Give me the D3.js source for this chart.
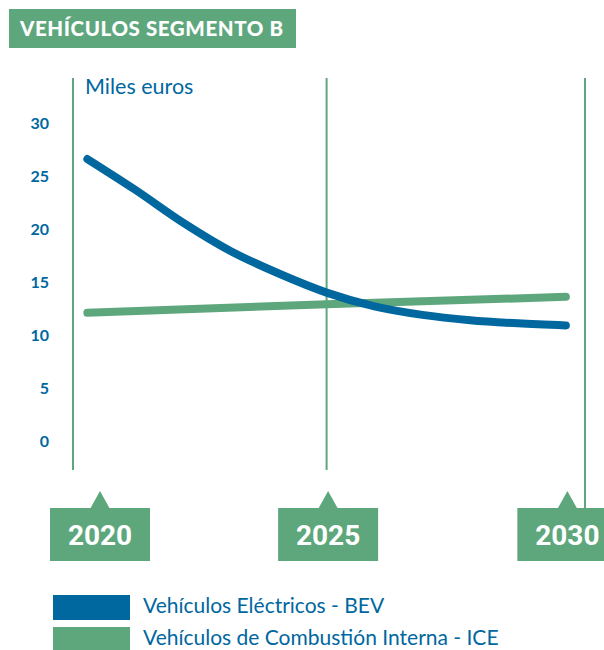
<!DOCTYPE html>
<html>
<head>
<meta charset="utf-8">
<script src="https://cdn.jsdelivr.net/npm/d3@7"></script>
<style>
  body { margin: 0; background: #fff; }
  svg { display: block; font-family: Lato, "Open Sans", sans-serif; }
</style>
</head>
<body>
<svg width="604" height="650"></svg>
<script>
var blue = "#00679f", green = "#5ea77d";

// data (miles de euros)
var years = [2020, 2021, 2022, 2023, 2024, 2025, 2026, 2027, 2028, 2029, 2030];
var bev = [26.6, 23.7, 20.6, 17.9, 15.8, 14.0, 12.7, 11.9, 11.4, 11.1, 10.9];
var iceYears = [2020, 2025, 2030];
var ice = [12.1, 12.9, 13.6];
var yTicks = [0, 5, 10, 15, 20, 25, 30];
var yearLabels = [2020, 2025, 2030];
var legendNames = ["Vehículos Eléctricos - BEV", "Vehículos de Combustión Interna - ICE"];

var svg = d3.select("svg");

var x = d3.scaleLinear().domain([2019.7, 2030.4]).range([73, 585]);
var y = d3.scaleLinear().domain([0, 30]).range([441, 123]);

// title
svg.append("rect").attr("x", 9).attr("y", 9).attr("width", 287).attr("height", 39).attr("fill", green);
svg.append("text").attr("x", 20).attr("y", 36)
    .attr("fill", "#fff").style("font-weight", "900").style("font-size", "20.5px")
    .attr("textLength", 263).attr("lengthAdjust", "spacing")
    .text("VEHÍCULOS SEGMENTO B");

// vertical year lines
svg.selectAll(".vline")
    .data([x.domain()[0], 2025, x.domain()[1]])
    .enter().append("line")
    .attr("class", "vline")
    .attr("x1", function (d) { return x(d); })
    .attr("x2", function (d) { return x(d); })
    .attr("y1", 78)
    .attr("y2", function (d, i) { return i == 2 ? 508 : 470; })
    .attr("stroke", green).attr("stroke-width", 2);

svg.append("text").attr("x", 85).attr("y", 94)
    .attr("fill", blue).style("font-size", "21.5px")
    .text("Miles euros");

// y axis
var yAxis = svg.append("g")
    .attr("transform", "translate(49,0)")
    .call(d3.axisLeft(y).tickValues(yTicks).tickSize(0).tickPadding(0));
yAxis.select(".domain").remove();
yAxis.selectAll("text")
    .attr("fill", blue)
    .style("font-family", "Lato, sans-serif")
    .style("font-weight", "bold")
    .style("font-size", "16px");

// lines
var line = d3.line()
    .curve(d3.curveMonotoneX)
    .x(function (d) { return x(d[0]); })
    .y(function (d) { return y(d[1]); });

svg.append("path")
    .attr("d", line(d3.zip(iceYears, ice)))
    .attr("fill", "none").attr("stroke", green)
    .attr("stroke-width", 8).attr("stroke-linecap", "round");

svg.append("path")
    .attr("d", line(d3.zip(years, bev)))
    .attr("fill", "none").attr("stroke", blue)
    .attr("stroke-width", 8).attr("stroke-linecap", "round").attr("stroke-linejoin", "round");

// year badges
var badge = svg.selectAll(".badge")
    .data(yearLabels)
    .enter().append("g")
    .attr("class", "badge")
    .attr("transform", function (d) { return "translate(" + Math.max(x(d) + 1.5, 100) + ",0)"; });

badge.append("path")
    .attr("d", "M-10,509L0,491L10,509Z")
    .attr("fill", green);
badge.append("rect")
    .attr("x", -50).attr("y", 508).attr("width", 100).attr("height", 53)
    .attr("fill", green);
badge.append("text")
    .attr("y", 545)
    .attr("text-anchor", "middle")
    .attr("fill", "#fff")
    .style("font-family", "Roboto, sans-serif")
    .style("font-weight", "bold")
    .style("font-size", "28px")
    .text(function (d) { return d; });

// legend
var legend = svg.selectAll(".legend")
    .data(legendNames)
    .enter().append("g")
    .attr("class", "legend")
    .attr("transform", function (d, i) { return "translate(0," + (595 + i * 32) + ")"; });

legend.append("rect")
    .attr("x", 53).attr("width", 77).attr("height", 25)
    .attr("fill", function (d, i) { return i == 0 ? blue : green; });
legend.append("text")
    .attr("x", 143).attr("y", 18)
    .attr("fill", blue)
    .style("font-size", "21px")
    .text(function (d) { return d; });
</script>
</body>
</html>
